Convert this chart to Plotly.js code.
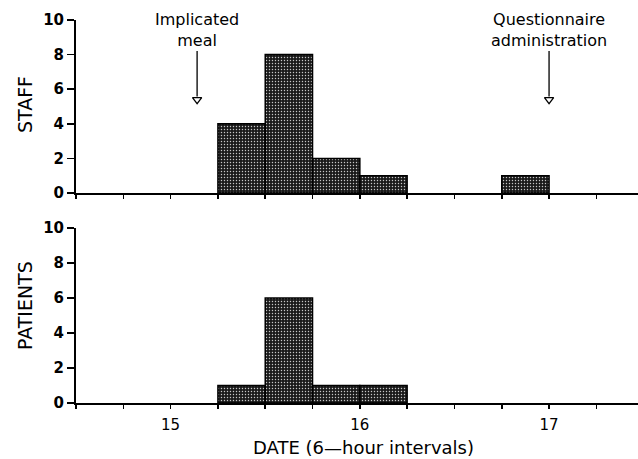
<!DOCTYPE html>
<html>
<head>
<meta charset="utf-8">
<script src="https://cdn.plot.ly/plotly-3.0.1.min.js"></script>
<style>html,body{margin:0;padding:0;background:#fff;}#chart{width:638px;height:459px;}</style>
</head>
<body>
<div id="chart"></div>
<script>
// Data: bin start dates (6-hour intervals = 0.25 day)
const binStart = [15.25, 15.5, 15.75, 16.0, 16.75];
const staffCounts = [4, 8, 2, 1, 1];
const patientBinStart = [15.25, 15.5, 15.75, 16.0];
const patientCounts = [1, 6, 1, 1];
const binWidth = 0.25;

const eventX = [15.14, 17.0];
const eventLabels = ["Implicated<br>meal", "Questionnaire<br>administration"];
const eventTipY = [5.4, 5.4];

const xTickVals = [15, 16, 17];
const xTickText = ["15", "16", "17"];
const yTickVals = [0, 2, 4, 6, 8, 10];

const panelTitles = ["STAFF", "PATIENTS"];
const xTitle = "DATE (6\u2014hour intervals)";

const FONT = "DejaVu Sans, Liberation Sans, sans-serif";

const barMarker = {
  color: "#222",
  line: {color: "#000", width: 1.5},
  pattern: {shape: ".", bgcolor: "#1a1a1a", fgcolor: "#c8c8c8", size: 3, solidity: 0.18, fillmode: "replace"}
};

const traces = [
  {type: "bar", x: binStart, y: staffCounts, width: binWidth, offset: 0,
   xaxis: "x", yaxis: "y", marker: barMarker, hoverinfo: "none"},
  {type: "bar", x: patientBinStart, y: patientCounts, width: binWidth, offset: 0,
   xaxis: "x2", yaxis: "y2", marker: barMarker, hoverinfo: "none"},
  {type: "scatter", mode: "markers", x: eventX, y: eventTipY, xaxis: "x", yaxis: "y",
   marker: {symbol: "triangle-down-open", size: 8, color: "#000", line: {width: 1.3, color: "#000"}},
   cliponaxis: false, hoverinfo: "none"}
];

const xCommon = {
  range: [14.5, 17.47], showline: true, linecolor: "#000", linewidth: 2,
  ticks: "outside", ticklen: 4, tickwidth: 1.5, tickcolor: "#000",
  tickvals: xTickVals, ticktext: xTickText, showgrid: false, zeroline: false,
  minor: {dtick: 0.25, tick0: 14.5, ticks: "outside", ticklen: 4, tickwidth: 1.5, tickcolor: "#000", showgrid: false},
  tickfont: {family: FONT, size: 15, color: "#000"}, fixedrange: true
};
const yCommon = {
  range: [0, 10], showline: true, linecolor: "#000", linewidth: 2,
  ticks: "outside", ticklen: 7, tickwidth: 1.5, tickcolor: "#000",
  tickvals: yTickVals, showgrid: false, zeroline: false,
  tickfont: {family: FONT, size: 15, color: "#000", weight: "bold"}, fixedrange: true
};

const annotations = eventX.map((x, i) => ({
  x: x, y: eventTipY[i], xref: "x", yref: "y", text: eventLabels[i],
  showarrow: true, arrowhead: 0, arrowwidth: 1.3, arrowcolor: "#000",
  ax: 0, ay: -70, standoff: 3,
  font: {family: FONT, size: 16, color: "#000"}
}));
annotations.push(
  {xref: "paper", yref: "paper", x: -0.091, y: 0.773, xanchor: "center", yanchor: "middle",
   text: panelTitles[0], textangle: -90,
   showarrow: false, font: {family: FONT, size: 19, color: "#000"}},
  {xref: "paper", yref: "paper", x: -0.091, y: 0.335, xanchor: "center", yanchor: "middle",
   text: panelTitles[1], textangle: -90,
   showarrow: false, font: {family: FONT, size: 19, color: "#000"}},
  {xref: "paper", yref: "paper", x: 0.511, y: 0.026, xanchor: "center", yanchor: "middle",
   text: xTitle, showarrow: false, font: {family: FONT, size: 18, color: "#000"}}
);

const layout = {
  width: 638, height: 459,
  margin: {l: 76, r: 0, t: 0, b: 0},
  paper_bgcolor: "#fff", plot_bgcolor: "#fff",
  showlegend: false, bargap: 0,
  xaxis: Object.assign({}, xCommon, {anchor: "y", showticklabels: false}),
  yaxis: Object.assign({}, yCommon, {domain: [0.5795, 0.9564], anchor: "x"}),
  xaxis2: Object.assign({}, xCommon, {anchor: "y2", ticklabelstandoff: 3}),
  yaxis2: Object.assign({}, yCommon, {domain: [0.122, 0.5033], anchor: "x2"}),
  annotations: annotations
};

Plotly.newPlot("chart", traces, layout, {staticPlot: true, displayModeBar: false});
</script>
</body>
</html>
